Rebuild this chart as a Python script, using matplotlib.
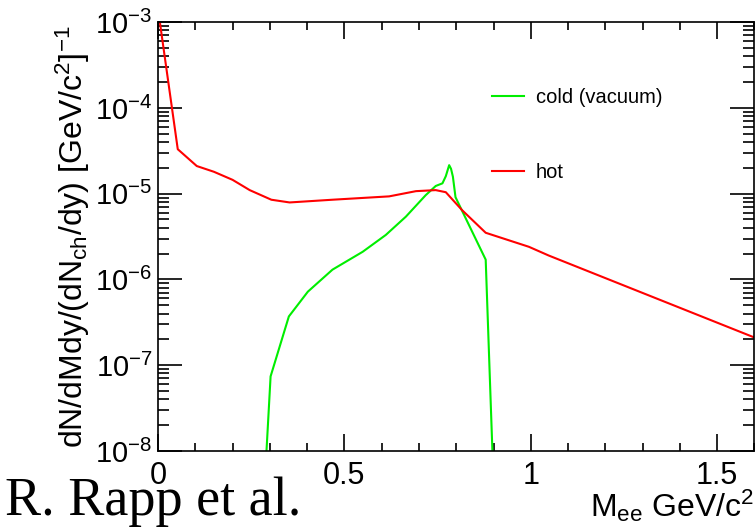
import matplotlib
matplotlib.use('Agg')
import matplotlib.pyplot as plt
from matplotlib.ticker import MultipleLocator, LogLocator, NullFormatter

# Donnees (masse en GeV/c^2)
m_hot = [0.005, 0.053, 0.104, 0.15, 0.2, 0.246, 0.304, 0.353, 0.468, 0.62,
         0.692, 0.745, 0.772, 0.816, 0.879, 0.995, 1.048, 1.6]
y_hot = [1.0e-3, 3.3e-5, 2.1e-5, 1.8e-5, 1.45e-5, 1.1e-5, 8.5e-6, 7.9e-6, 8.5e-6, 9.3e-6,
         1.07e-5, 1.1e-5, 1.04e-5, 6.4e-6, 3.5e-6, 2.4e-6, 1.9e-6, 2.1e-7]

m_cold = [0.291, 0.302, 0.351, 0.402, 0.468, 0.549, 0.611, 0.665, 0.718, 0.745,
          0.763, 0.772, 0.781, 0.786, 0.791, 0.798, 0.879, 0.897]
y_cold = [1.0e-8, 7.4e-8, 3.7e-7, 7.2e-7, 1.3e-6, 2.1e-6, 3.3e-6, 5.4e-6, 9.6e-6, 1.23e-5,
          1.32e-5, 1.6e-5, 2.15e-5, 1.95e-5, 1.58e-5, 9.1e-6, 1.7e-6, 1.0e-8]

plt.rcParams['font.family'] = ['Liberation Sans', 'DejaVu Sans']
plt.rcParams['mathtext.fontset'] = 'custom'
plt.rcParams['mathtext.rm'] = 'Liberation Sans'
plt.rcParams['mathtext.it'] = 'Liberation Sans'

fig = plt.figure(figsize=(7.56, 5.28), dpi=100)
ax = fig.add_axes([0.209, 0.146, 0.789, 0.812])

ax.plot(m_cold, y_cold, color='#00ee00', lw=1.5, label='cold (vacuum)')
ax.plot(m_hot, y_hot, color='#ff0000', lw=1.5, label='hot')

ax.set_yscale('log')
ax.set_xlim(0, 1.6)
ax.set_ylim(1e-8, 1e-3)

ax.xaxis.set_major_locator(MultipleLocator(0.5))
ax.xaxis.set_minor_locator(MultipleLocator(0.1))
ax.yaxis.set_major_locator(LogLocator(base=10))
ax.yaxis.set_minor_locator(LogLocator(base=10, subs=range(2, 10)))
ax.yaxis.set_minor_formatter(NullFormatter())
ax.set_xticks([0, 0.5, 1, 1.5])
ax.set_xticklabels(['0', '0.5', '1', '1.5'])

ax.tick_params(which='both', direction='in', top=True, right=True, width=1.2,
               colors='black')
ax.tick_params(axis='x', which='major', length=12, pad=7, labelsize=22)
ax.tick_params(axis='x', which='minor', length=6)
ax.tick_params(axis='y', which='major', length=17, pad=4, labelsize=21)
ax.tick_params(axis='y', which='minor', length=8)
for s in ax.spines.values():
    s.set_linewidth(1.2)

ax.set_ylabel(r'dN/dMdy/(dN$_{\rm ch}$/dy) [GeV/c$^{2}$]$^{-1}$', fontsize=23, labelpad=2)
ax.set_xlabel(r'M$_{\rm ee}$ GeV/c$^{2}$', fontsize=23, loc='right', labelpad=-2)

ax.legend(loc='upper left', bbox_to_anchor=(0.53, 0.888), frameon=False, fontsize=14.5,
          handlelength=1.6, labelspacing=2.75, handletextpad=0.55)

fig.text(0.007, 0.024, 'R. Rapp et al.', family=['Liberation Serif', 'DejaVu Serif'],
         fontsize=39)

plt.savefig('out.png', dpi=100)
